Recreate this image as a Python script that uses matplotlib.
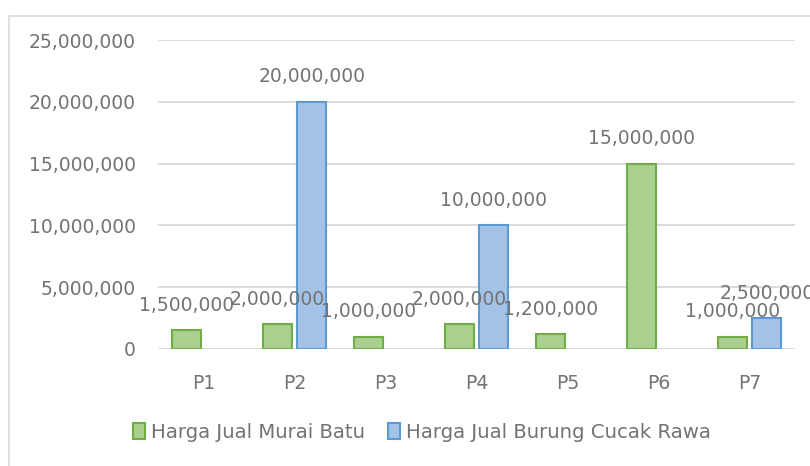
"""Bar chart of bird selling prices per respondent
"""

import numpy as np
import matplotlib
matplotlib.use('Agg')
import matplotlib.pyplot as plt
from matplotlib.patches import Rectangle
from matplotlib.ticker import FuncFormatter

categories = ['P1', 'P2', 'P3', 'P4', 'P5', 'P6', 'P7']
murai_batu = [1500000, 2000000, 1000000, 2000000, 1200000, 15000000, 1000000]
cucak_rawa = [None, 20000000, None, 10000000, None, None, 2500000]
series_names = ['Harga Jual Murai Batu', 'Harga Jual Burung Cucak Rawa']
y_ticks = [0, 5000000, 10000000, 15000000, 20000000, 25000000]

class C:
    w = 0.32 # bar width, in category units
    off = 0.19 # bar offset from category centre
    fs = 13.5 # font size
    txt = '#737373'
    grid = '#d9d9d9'
    green = ('#a9d08e', '#70ad47')
    blue = ('#a4c2e6', '#5b9bd5')

def add_labels(ax, xs, vals):
    for x, v in zip(xs, vals):
        if v is None:
            continue
        ax.annotate(f'{v:,.0f}', (x, v), xytext=(0, 18), textcoords='offset points',
                    ha='center', va='center', fontsize=C.fs, color=C.txt,
                    annotation_clip=False)

def main():
    fig = plt.figure(figsize=(8.1, 4.66), dpi=100)
    # chart frame (runs past the right and bottom edge of the picture)
    fig.patches.append(Rectangle((9/810, -0.2), 1.2, 1.2 - 16/466,
                                 transform=fig.transFigure, fill=False,
                                 edgecolor='#d9d9d9', linewidth=1.2))
    ax = fig.add_axes([158/810, 1 - 349/466, (795 - 158)/810, (349 - 40)/466])

    x = np.arange(len(categories))
    mb = np.array([np.nan if v is None else v for v in murai_batu], dtype=float)
    cr = np.array([np.nan if v is None else v for v in cucak_rawa], dtype=float)
    ax.bar(x - C.off, mb, C.w, color=C.green[0], edgecolor=C.green[1],
           linewidth=1.5, label=series_names[0], zorder=3)
    ax.bar(x + C.off, cr, C.w, color=C.blue[0], edgecolor=C.blue[1],
           linewidth=1.5, label=series_names[1], zorder=3)
    add_labels(ax, x - C.off, murai_batu)
    add_labels(ax, x + C.off, cucak_rawa)

    ax.set_xlim(-0.5, len(categories) - 0.5)
    ax.set_ylim(0, 25000000)
    ax.set_yticks(y_ticks)
    ax.yaxis.set_major_formatter(FuncFormatter(lambda v, p: f'{v:,.0f}'))
    ax.set_xticks(x)
    ax.set_xticklabels(categories)
    ax.tick_params(axis='both', length=0, labelsize=C.fs, labelcolor=C.txt)
    ax.tick_params(axis='y', pad=16)
    ax.tick_params(axis='x', pad=18)
    ax.grid(axis='y', color=C.grid, linewidth=1.3, zorder=0)
    for s in ax.spines.values():
        s.set_visible(False)
    ax.set_axisbelow(True)

    fig.legend(loc='center', bbox_to_anchor=(422/810, 1 - 432/466), ncol=2,
               frameon=False, fontsize=14.2, labelcolor=C.txt,
               handlelength=0.6, handleheight=0.9, handletextpad=0.3,
               columnspacing=1.2)
    fig.savefig('out.png', dpi=100)

if __name__ == "__main__":
    main()
